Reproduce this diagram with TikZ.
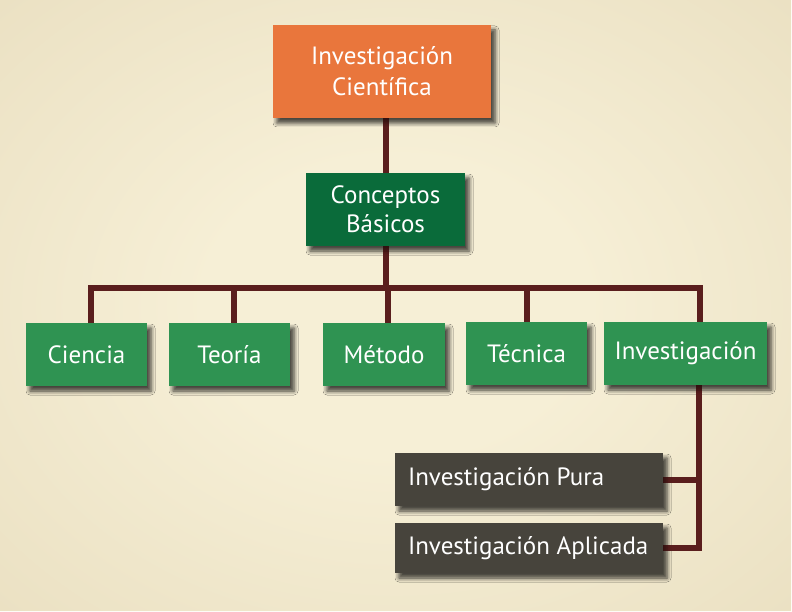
\documentclass[tikz,border=0pt]{standalone}
\usepackage{fontspec}
\setmainfont{PT Sans}
\usetikzlibrary{shadows.blur}
\definecolor{bgin}{HTML}{F6EFD6}
\definecolor{bgmid}{HTML}{E4D8B7}
\definecolor{bgout}{HTML}{D7C8A3}
\definecolor{orangebox}{HTML}{E9763C}
\definecolor{darkgreen}{HTML}{0A6B3A}
\definecolor{lightgreen}{HTML}{2F9352}
\definecolor{greybox}{HTML}{47443C}
\definecolor{conncol}{HTML}{5A1E1D}
\pgfdeclareradialshading{bgshade}{\pgfpoint{0bp}{0bp}}{%
  color(0bp)=(bgin); color(12bp)=(bgin); color(50bp)=(bgmid); color(71bp)=(bgout)}
\tikzset{
  box/.style={rectangle, inner sep=0pt, text=white, align=center,
    font=\fontsize{25}{31}\selectfont,
    blur shadow={shadow xshift=4pt, shadow yshift=-5pt, shadow blur radius=4pt, shadow opacity=45}},
  topbox/.style={box, fill=orangebox, minimum width=218pt, minimum height=93pt},
  midbox/.style={box, fill=darkgreen, minimum width=159pt, minimum height=73pt,
    font=\fontsize{25}{29}\selectfont},
  leafbox/.style={box, fill=lightgreen, minimum height=63pt},
  greyleaf/.style={box, fill=greybox, minimum width=268pt, inner xsep=13pt},
  conn/.style={draw=conncol, line width=6pt, line join=miter},
  connshadow/.style={draw=conncol!60!bgout, line width=6pt, opacity=0.3, line join=miter}
}
\newcommand{\greytext}[1]{\makebox[242pt][l]{#1}}
\begin{document}
\begin{tikzpicture}[x=1pt,y=-1pt]
\useasboundingbox (0,0) rectangle (792,612);
\shade[shading=bgshade] (0,0) rectangle (792,612);
\fill[white!80!bgin] (791,0) rectangle (792,612);
\fill[white!80!bgin] (0,611) rectangle (792,612);

% nodes (positioned first, drawn again above connectors)
\path
  node[topbox]  (top)     at (382,71.5)  {Investigación\\Científica}
  node[midbox]  (cb)      at (385.5,209.5) {Conceptos\\Básicos}
  node[leafbox, minimum width=121pt] (ciencia) at (86.5,354.5) {Ciencia}
  node[leafbox, minimum width=121pt] (teoria)  at (229.5,354.5) {Teoría}
  node[leafbox, minimum width=122pt] (metodo)  at (384,354.5) {Método}
  node[leafbox, minimum width=121pt] (tecnica) at (526.5,353.5) {Técnica}
  node[leafbox, minimum width=163pt] (invest)  at (685.5,353.5) {Investigación}
  node[greyleaf, minimum height=53pt] (pura)     at (529,479.5) {\greytext{Investigación Pura}}
  node[greyleaf, minimum height=50pt] (aplicada) at (529,548) {\greytext{Investigación Aplicada}};

\coordinate (busL) at (91,288);
\coordinate (busR) at (700,288);
\coordinate (sideX) at (699,0);

% connector shadows
\begin{scope}[xshift=2pt, yshift=-3pt]
  \draw[connshadow] (top.south -| cb.north) -- (cb.north);
  \draw[connshadow] (cb.south) -- (cb.south |- busL);
  \draw[connshadow] ([xshift=4.5pt]ciencia.north) |- (busR) -- (busR |- invest.north);
  \draw[connshadow] ([xshift=4.5pt]teoria.north) -- ([xshift=4.5pt]teoria.north |- busL);
  \draw[connshadow] ([xshift=4pt]metodo.north) -- ([xshift=4pt]metodo.north |- busL);
  \draw[connshadow] ([xshift=0.5pt]tecnica.north) -- ([xshift=0.5pt]tecnica.north |- busL);
  \draw[connshadow] (invest.south -| sideX) |- (aplicada.east);
  \draw[connshadow] (pura.east) -- (pura.east -| sideX);
\end{scope}

% connectors
\draw[conn] (top.south -| cb.north) -- (cb.north);
\draw[conn] (cb.south) -- (cb.south |- busL);
\draw[conn] ([xshift=4.5pt]ciencia.north) |- (busR) -- (busR |- invest.north);
\draw[conn] ([xshift=4.5pt]teoria.north) -- ([xshift=4.5pt]teoria.north |- busL);
\draw[conn] ([xshift=4pt]metodo.north) -- ([xshift=4pt]metodo.north |- busL);
\draw[conn] ([xshift=0.5pt]tecnica.north) -- ([xshift=0.5pt]tecnica.north |- busL);
\draw[conn] (invest.south -| sideX) |- (aplicada.east);
\draw[conn] (pura.east) -- (pura.east -| sideX);

% redraw nodes on top of the connectors
\node[topbox]  at (top)     {Investigación\\Científica};
\node[midbox]  at (cb)      {Conceptos\\Básicos};
\node[leafbox, minimum width=121pt] at (ciencia) {Ciencia};
\node[leafbox, minimum width=121pt] at (teoria)  {Teoría};
\node[leafbox, minimum width=122pt] at (metodo)  {Método};
\node[leafbox, minimum width=121pt] at (tecnica) {Técnica};
\node[leafbox, minimum width=163pt] at (invest)  {Investigación};
\node[greyleaf, minimum height=53pt] at (pura)     {\greytext{Investigación Pura}};
\node[greyleaf, minimum height=50pt] at (aplicada) {\greytext{Investigación Aplicada}};
\end{tikzpicture}
\end{document}
